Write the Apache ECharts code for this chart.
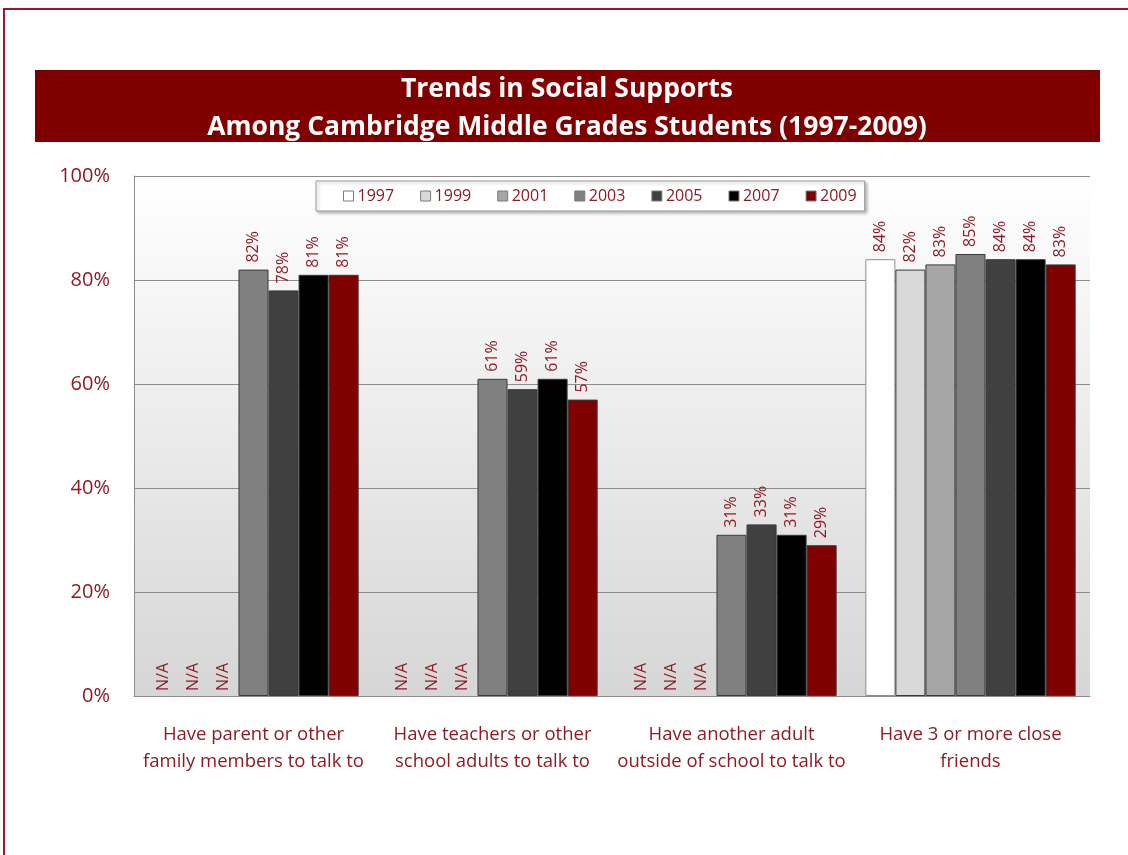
<!DOCTYPE html>
<html>
<head>
<meta charset="utf-8">
<script src="https://cdn.jsdelivr.net/npm/echarts@6/dist/echarts.min.js"></script>
<style>
  html, body { margin: 0; padding: 0; background: #ffffff; }
  #chart { width: 1128px; height: 855px; }
</style>
</head>
<body>
<div id="chart"></div>
<script>
// Survey categories (two-line axis labels)
const categories = [
  'Have parent or other\nfamily members to talk to',
  'Have teachers or other\nschool adults to talk to',
  'Have another adult\noutside of school to talk to',
  'Have 3 or more close\nfriends'
];

// Survey years (one series per year)
const years = ['1997', '1999', '2001', '2003', '2005', '2007', '2009'];

// Percent of students reporting each support; null = question not asked (N/A)
const v1997 = [null, null, null, 84];
const v1999 = [null, null, null, 82];
const v2001 = [null, null, null, 83];
const v2003 = [82, 61, 31, 85];
const v2005 = [78, 59, 33, 84];
const v2007 = [81, 61, 31, 84];
const v2009 = [81, 57, 29, 83];

const yTicks = [0, 20, 40, 60, 80, 100];

const seriesValues = [v1997, v1999, v2001, v2003, v2005, v2007, v2009];
const barColors = ['#ffffff', '#d9d9d9', '#a6a6a6', '#808080', '#404040', '#000000', '#800000'];
const labelRed = '#8e1b24';
const fontFam = '"Open Sans", "Noto Sans", sans-serif';

const series = years.map((yr, i) => ({
  name: yr,
  type: 'bar',
  barGap: '0%',
  barCategoryGap: '12%',
  itemStyle: {
    color: barColors[i],
    borderColor: i === 0 ? '#8c8c8c' : '#3a3a3a',
    borderWidth: 1
  },
  label: {
    show: true,
    position: 'top',
    rotate: 90,
    align: 'left',
    verticalAlign: 'middle',
    distance: 7,
    color: labelRed,
    fontFamily: fontFam,
    fontSize: 16,
    formatter: p => (p.data && p.data.na) ? 'N/A' : p.value + '%'
  },
  data: seriesValues[i].map(v => v === null
    ? { value: 0, na: true, itemStyle: { borderWidth: 0 }, label: { distance: 5 } }
    : v)
}));

const chart = echarts.init(document.getElementById('chart'), null, { renderer: 'canvas' });

chart.setOption({
  backgroundColor: '#ffffff',
  animation: false,
  graphic: [
    // page frame
    {
      type: 'rect',
      shape: { x: 4, y: 9, width: 1140, height: 870 },
      style: { fill: 'none', stroke: '#a3152e', lineWidth: 2 },
      silent: true
    },
    // title band
    {
      type: 'rect',
      shape: { x: 35, y: 70, width: 1065, height: 72 },
      style: { fill: '#800000' },
      silent: true
    },
    {
      type: 'text',
      x: 567,
      y: 89,
      style: {
        text: 'Trends in Social Supports',
        fill: '#ffffff',
        font: 'bold 26.5px ' + fontFam,
        align: 'center',
        verticalAlign: 'middle'
      },
      silent: true
    },
    {
      type: 'text',
      x: 567,
      y: 127,
      style: {
        text: 'Among Cambridge Middle Grades Students (1997-2009)',
        fill: '#ffffff',
        font: 'bold 26.5px ' + fontFam,
        align: 'center',
        verticalAlign: 'middle'
      },
      silent: true
    }
  ],
  legend: {
    data: years,
    left: 316,
    top: 181,
    backgroundColor: '#ffffff',
    borderColor: '#9a9a9a',
    borderWidth: 1,
    shadowColor: 'rgba(0,0,0,0.25)',
    shadowBlur: 3,
    shadowOffsetX: 2,
    shadowOffsetY: 2,
    padding: [7, 8, 7, 27],
    itemWidth: 10,
    itemHeight: 10,
    itemGap: 26,
    icon: 'rect',
    itemStyle: { borderColor: '#7a7a7a', borderWidth: 1 },
    textStyle: { color: labelRed, fontFamily: fontFam, fontSize: 16, padding: [0, 0, 0, -1] }
  },
  grid: {
    left: 134,
    right: 38,
    top: 176,
    bottom: 159,
    show: true,
    borderWidth: 0,
    backgroundColor: {
      type: 'linear', x: 0, y: 0, x2: 0, y2: 1,
      colorStops: [
        { offset: 0, color: '#ffffff' },
        { offset: 1, color: '#d6d6d6' }
      ]
    }
  },
  xAxis: {
    type: 'category',
    data: categories,
    axisLine: { show: true, lineStyle: { color: '#8c8c8c', width: 1 } },
    axisTick: { show: false },
    axisLabel: {
      color: labelRed,
      fontFamily: fontFam,
      fontSize: 18.5,
      lineHeight: 27,
      margin: 25,
      interval: 0
    }
  },
  yAxis: {
    type: 'value',
    min: yTicks[0],
    max: yTicks[yTicks.length - 1],
    interval: 20,
    axisLine: { show: true, lineStyle: { color: '#8c8c8c', width: 1 } },
    axisTick: { show: false },
    splitLine: { show: true, lineStyle: { color: '#8c8c8c', width: 1 } },
    axisLabel: {
      color: labelRed,
      fontFamily: fontFam,
      fontSize: 20,
      margin: 24,
      formatter: v => v + '%'
    }
  },
  series: series
});
</script>
</body>
</html>
